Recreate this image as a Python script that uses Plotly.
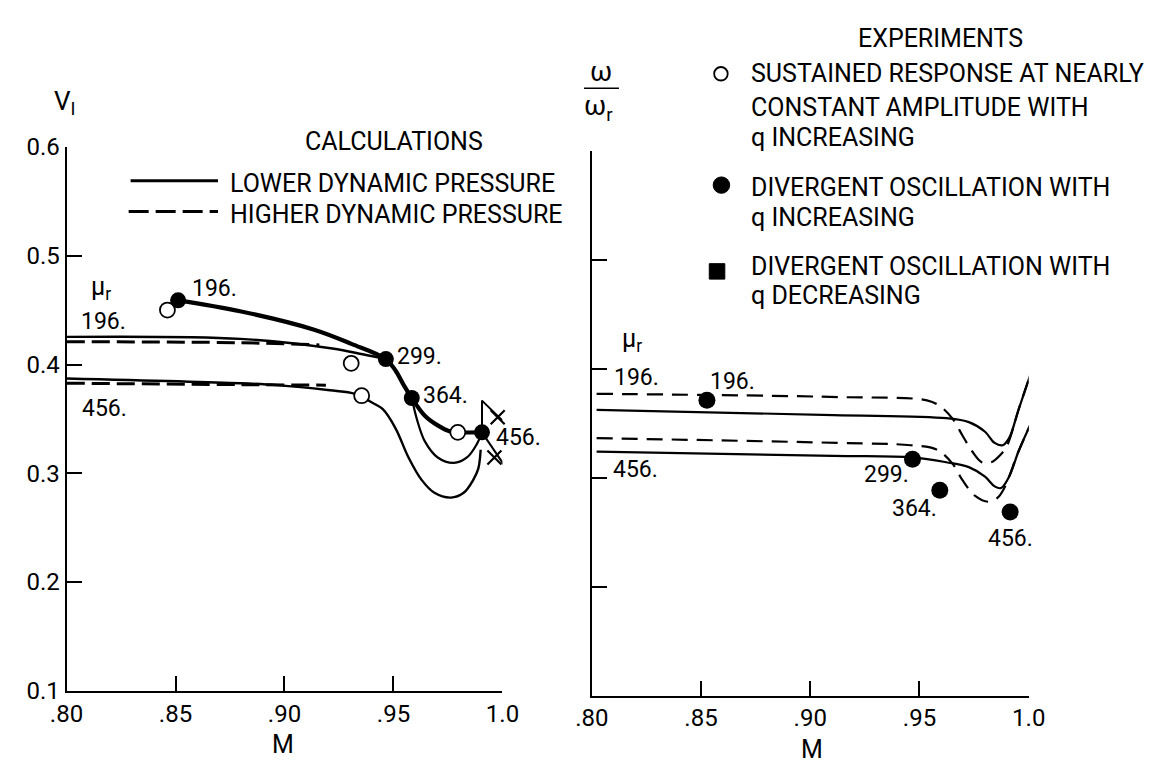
import plotly.graph_objects as go

W, H = 1170, 778
FONT = "Roboto, Liberation Sans, sans-serif"

# ---------------- data: left panel (M vs V_I) ----------------
m_ticks = [0.80, 0.85, 0.90, 0.95, 1.0]
m_ticktext = [".80", ".85", ".90", ".95", "1.0"]
v_ticks = [0.1, 0.2, 0.3, 0.4, 0.5, 0.6]
v_ticktext = ["0.1", "0.2", "0.3", "0.4", "0.5", "0.6"]

thick_m = [0.8512, 0.8796, 0.9136, 0.9307, 0.9465, 0.9510, 0.9547, 0.9584, 0.9644, 0.9703, 0.9763, 0.9795, 0.9906]
thick_v = [0.4590, 0.4490, 0.4320, 0.4190, 0.4050, 0.3943, 0.3810, 0.3692, 0.3529, 0.3440, 0.3382, 0.3376, 0.3376]

low196_m = [0.800, 0.8797, 0.9220, 0.9359, 0.9465]
low196_v = [0.4254, 0.4236, 0.4147, 0.4094, 0.4050]
high196_m = [0.800, 0.880, 0.916]
high196_v = [0.421, 0.420, 0.418]

low456_m = [0.800, 0.8797, 0.8967, 0.9198, 0.9305, 0.9354, 0.9391, 0.9451, 0.9510, 0.9569, 0.9629,
            0.9688, 0.9763, 0.9822, 0.9866, 0.9889, 0.9900]
low456_v = [0.3872, 0.3828, 0.3810, 0.3766, 0.3739, 0.3713, 0.3662, 0.3589, 0.3411, 0.3145, 0.2939,
            0.2820, 0.2776, 0.2820, 0.2939, 0.3042, 0.3216]
high456_m = [0.800, 0.880, 0.919]
high456_v = [0.3828, 0.3815, 0.3810]

mid_m = [0.9584, 0.9607, 0.9644, 0.9703, 0.9777, 0.9837, 0.9881, 0.9906]
mid_v = [0.3692, 0.3500, 0.3293, 0.3145, 0.3095, 0.3145, 0.3263, 0.3376]

vee_up_m = [0.9906, 0.9906, 1.0000]
vee_up_v = [0.3376, 0.3668, 0.3485]
vee_dn_m = [0.9906, 1.0022]
vee_dn_v = [0.3376, 0.3033]
cross_m = [0.9978, 0.9963]
cross_v = [0.3515, 0.3145]

calc_open_m = [0.8463, 0.9306, 0.9354, 0.9795, 1.0022]
calc_open_v = [0.4501, 0.4011, 0.3713, 0.3376, 0.3033]
calc_fill_m = [0.8512, 0.9465, 0.9584, 0.9906]
calc_fill_v = [0.4590, 0.4050, 0.3692, 0.3376]
calc_fill_lbl = ["196.", "299.", "364.", "456."]

# ---------------- data: right panel (M vs w/w_r) ----------------
up_dash_m = [0.8022, 0.9136, 0.9534, 0.9593, 0.9652, 0.9696, 0.9740, 0.9785, 0.9829, 0.9873, 0.9903, 0.9954, 1.0006]
up_dash_w = [0.3770, 0.3740, 0.3710, 0.3658, 0.3540, 0.3390, 0.3245, 0.3142, 0.3142, 0.3215, 0.3304, 0.3628, 0.3938]
up_sol_m = [0.8022, 0.9106, 0.9623, 0.9726, 0.9800, 0.9844, 0.9881, 0.9910, 0.9954, 1.0006]
up_sol_w = [0.3622, 0.3575, 0.3546, 0.3510, 0.3422, 0.3319, 0.3298, 0.3363, 0.3628, 0.3938]
lo_dash_m = [0.8022, 0.9136, 0.9460, 0.9578, 0.9652, 0.9696, 0.9755, 0.9814, 0.9858, 0.9888, 0.9954, 1.0006]
lo_dash_w = [0.3363, 0.3319, 0.3298, 0.3259, 0.3127, 0.2980, 0.2832, 0.2779, 0.2817, 0.2905, 0.3245, 0.3480]
lo_sol_m = [0.8022, 0.9106, 0.9468, 0.9623, 0.9726, 0.9800, 0.9844, 0.9873, 0.9910, 0.9954, 1.0006]
lo_sol_w = [0.3239, 0.3201, 0.3186, 0.3142, 0.3097, 0.3009, 0.2920, 0.2905, 0.3009, 0.3245, 0.3480]

exp_m = [0.8527, 0.9468, 0.9593, 0.9915]
exp_w = [0.3710, 0.3170, 0.2885, 0.2684]
exp_lbl = ["196.", "299.", "364.", "456."]


def px(x):
    return x / W


def py(y):
    return 1 - y / H


fig = go.Figure()

BLACK = "black"


def line(xs, ys, width=2.2, dash="solid", ax="", shape="spline"):
    fig.add_trace(go.Scatter(x=xs, y=ys, mode="lines", xaxis="x" + ax, yaxis="y" + ax,
                             line=dict(color=BLACK, width=width, dash=dash, shape=shape, smoothing=1.0),
                             cliponaxis=False, showlegend=False, hoverinfo="skip"))


# left panel curves
line(low196_m, low196_v, 2.4)
line(high196_m, high196_v, 3, dash="18px,7px")
line(low456_m, low456_v, 2.4)
line(high456_m, high456_v, 3, dash="18px,7px")
line(mid_m, mid_v, 2.2)
line(thick_m, thick_v, 4.2)
line(vee_up_m, vee_up_v, 2.0, shape="linear")
line(vee_dn_m, vee_dn_v, 2.0, shape="linear")
fig.add_trace(go.Scatter(x=cross_m, y=cross_v, mode="markers", xaxis="x", yaxis="y",
                         marker=dict(symbol="x-thin-open", size=14, color=BLACK,
                                     line=dict(color=BLACK, width=2.2)),
                         cliponaxis=False, showlegend=False, hoverinfo="skip"))
fig.add_trace(go.Scatter(x=calc_open_m, y=calc_open_v, mode="markers", xaxis="x", yaxis="y",
                         marker=dict(symbol="circle", size=15, color="white", line=dict(color=BLACK, width=1.8)),
                         cliponaxis=False, showlegend=False, hoverinfo="skip"))
fig.add_trace(go.Scatter(x=calc_fill_m, y=calc_fill_v, mode="markers", xaxis="x", yaxis="y",
                         marker=dict(symbol="circle", size=16, color=BLACK),
                         cliponaxis=False, showlegend=False, hoverinfo="skip"))

# right panel curves
line(up_dash_m, up_dash_w, 2.2, dash="16px,9px", ax="2")
line(up_sol_m, up_sol_w, 2.2, ax="2")
line(lo_dash_m, lo_dash_w, 2.2, dash="16px,9px", ax="2")
line(lo_sol_m, lo_sol_w, 2.2, ax="2")
fig.add_trace(go.Scatter(x=exp_m, y=exp_w, mode="markers", xaxis="x2", yaxis="y2",
                         marker=dict(symbol="circle", size=17, color=BLACK),
                         cliponaxis=False, showlegend=False, hoverinfo="skip"))

axis_common = dict(showgrid=False, zeroline=False, showline=True, linecolor=BLACK, linewidth=2,
                   ticks="inside", ticklen=15, tickwidth=2, tickcolor=BLACK,
                   tickfont=dict(family=FONT, size=24, color=BLACK))

fig.update_layout(
    width=W, height=H, autosize=False,
    margin=dict(l=0, r=0, t=0, b=0),
    paper_bgcolor="white", plot_bgcolor="white",
    xaxis=dict(axis_common, domain=[px(51), px(500)], range=[0.80, 1.0], tickvals=m_ticks,
               ticktext=m_ticktext, anchor="y"),
    yaxis=dict(axis_common, domain=[py(702), py(138)], range=[0.1, 0.6], tickvals=v_ticks,
               ticktext=v_ticktext, anchor="x"),
    xaxis2=dict(axis_common, domain=[px(592), px(1042)], range=[0.80, 1.0], tickvals=m_ticks,
                ticktext=m_ticktext, anchor="y2"),
    yaxis2=dict(axis_common, domain=[py(707), py(142)], range=[0.1, 0.6], tickvals=v_ticks,
                showticklabels=False, anchor="x2"),
)

anns = []


def ann(text, x, y, size=23, xanchor="center"):
    anns.append(dict(text=text, x=px(x), y=py(y), xref="paper", yref="paper", showarrow=False,
                     font=dict(family=FONT, size=size, color=BLACK), xanchor=xanchor, yanchor="middle"))


# axis titles
ann("V<sub>I</sub>", 49, 92, 26)
ann("M", 274, 758, 25)
ann("M", 819, 763, 25)
ann("ω", 601, 60, 27)
ann("ω<sub>r</sub>", 599, 98, 27)

# left panel text
ann("CALCULATIONS", 388, 132, 25)
ann("LOWER DYNAMIC PRESSURE", 217, 176, 25, "left")
ann("HIGHER DYNAMIC PRESSURE", 217, 208, 25, "left")
ann("μ<sub>r</sub>", 86, 284, 25)
ann("196.", 89, 319, 23)
ann("456.", 90, 409, 23)
left_lbl_pos = [(203, 285), (415, 355), (441, 396), (517, 439)]
for t, (x, y) in zip(calc_fill_lbl, left_lbl_pos):
    ann(t, x, y, 23)

# right panel text
ann("EXPERIMENTS", 951, 25, 25)
legend_lines = [("SUSTAINED RESPONSE AT NEARLY", 62), ("CONSTANT AMPLITUDE WITH", 97),
                ("q INCREASING", 128), ("DIVERGENT OSCILLATION WITH", 180), ("q INCREASING", 211),
                ("DIVERGENT OSCILLATION WITH", 262), ("q DECREASING", 292)]
for t, y in legend_lines:
    ann(t, 754, y, 25, "left")
ann("μ<sub>r</sub>", 633, 338, 25)
ann("196.", 638, 377, 23)
ann("456.", 637, 472, 23)
right_lbl_pos = [(737, 381), (896, 478), (924, 513), (1023, 544)]
for t, (x, y) in zip(exp_lbl, right_lbl_pos):
    ann(t, x, y, 23)

fig.update_layout(annotations=anns)

shapes = [
    # calculations legend glyphs
    dict(type="line", xref="paper", yref="paper", x0=px(117), x1=px(207), y0=py(173), y1=py(173),
         line=dict(color=BLACK, width=3)),
    dict(type="line", xref="paper", yref="paper", x0=px(115), x1=px(207), y0=py(205), y1=py(205),
         line=dict(color=BLACK, width=3, dash="20px,7px")),
    # fraction bar of w/w_r
    dict(type="line", xref="paper", yref="paper", x0=px(584), x1=px(620), y0=py(77), y1=py(77),
         line=dict(color=BLACK, width=1.6)),
    # experiments legend symbols
    dict(type="circle", xref="paper", yref="paper", x0=px(718), x1=px(732), y0=py(69), y1=py(55),
         line=dict(color=BLACK, width=1.8), fillcolor="white"),
    dict(type="circle", xref="paper", yref="paper", x0=px(717), x1=px(734), y0=py(186), y1=py(169),
         line=dict(color=BLACK, width=1), fillcolor=BLACK),
    dict(type="rect", xref="paper", yref="paper", x0=px(713), x1=px(729), y0=py(275), y1=py(259),
         line=dict(color=BLACK, width=1), fillcolor=BLACK),
]
fig.update_layout(shapes=shapes)

fig.write_html("out.html")
